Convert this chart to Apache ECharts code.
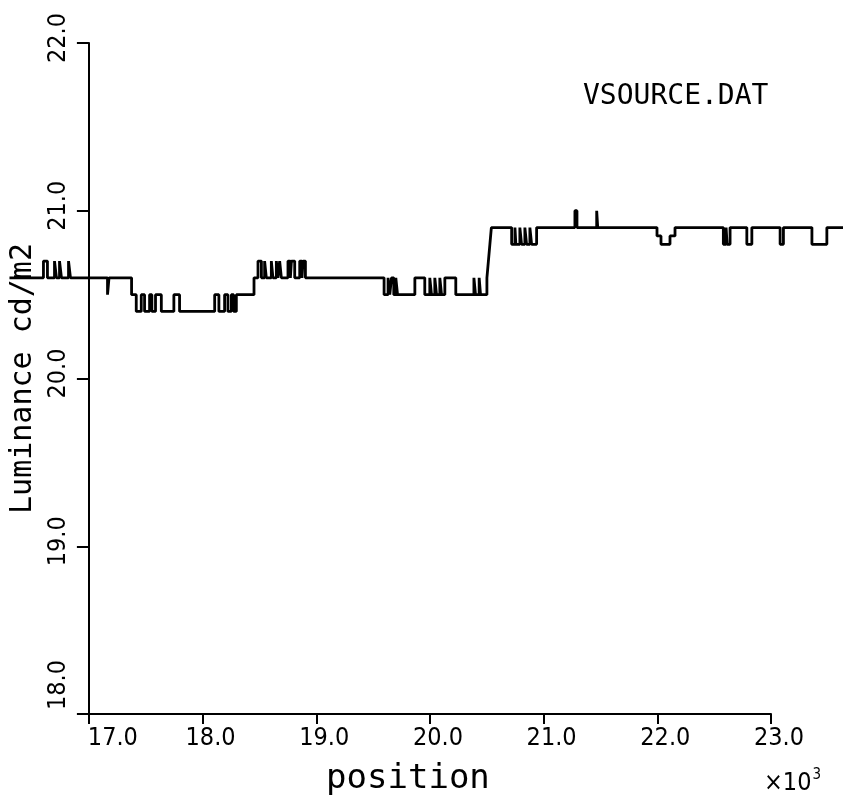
<!DOCTYPE html>
<html>
<head>
<meta charset="utf-8">
<script src="https://cdn.jsdelivr.net/npm/echarts@6/dist/echarts.min.js"></script>
<style>
  html, body { margin: 0; padding: 0; background: #fff; }
  #chart { width: 843px; height: 801px; }
</style>
</head>
<body>
<div id="chart"></div>
<script>
// step points: from each position on, the luminance holds this value
var positions = [
  16320, 16618, 16653, 16715, 16732, 16759, 16776, 16838, 16855, 17180,
  17193, 17391, 17432, 17476, 17505, 17549, 17569, 17601, 17652, 17762,
  17812, 18120, 18157, 18207, 18236, 18266, 18286, 18310, 18465, 18500,
  18530, 18558, 18573, 18617, 18631, 18661, 18675, 18690, 18705, 18763,
  18784, 18793, 18822, 18866, 18886, 18895, 18916, 19606, 19641, 19656,
  19671, 19691, 19709, 19724, 19876, 19963, 20007, 20022, 20051, 20066,
  20095, 20110, 20139, 20235, 20394, 20408, 20440, 20452, 20508, 20521,
  20534, 20547, 20725, 20754, 20762, 20797, 20812, 20841, 20856, 20885,
  20900, 20944, 21280, 21298, 21471, 21480, 22000, 22035, 22114, 22158,
  22582, 22606, 22615, 22641, 22788, 22832, 23080, 23109, 23359, 23490,
  23695
];
var luminance = [
  20.6, 20.7, 20.6, 20.7, 20.6, 20.7, 20.6, 20.7, 20.6, 20.5,
  20.6, 20.5, 20.4, 20.5, 20.4, 20.5, 20.4, 20.5, 20.4, 20.5,
  20.4, 20.5, 20.4, 20.5, 20.4, 20.5, 20.4, 20.5, 20.6, 20.7,
  20.6, 20.7, 20.6, 20.7, 20.6, 20.7, 20.6, 20.7, 20.6, 20.7,
  20.6, 20.7, 20.6, 20.7, 20.6, 20.7, 20.6, 20.5, 20.6, 20.5,
  20.6, 20.5, 20.6, 20.5, 20.6, 20.5, 20.6, 20.5, 20.6, 20.5,
  20.6, 20.5, 20.6, 20.5, 20.6, 20.5, 20.6, 20.5, 20.6, 20.7,
  20.8, 20.9, 20.8, 20.9, 20.8, 20.9, 20.8, 20.9, 20.8, 20.9,
  20.8, 20.9, 21.0, 20.9, 21.0, 20.9, 20.85, 20.8, 20.85, 20.9,
  20.8, 20.9, 20.8, 20.9, 20.8, 20.9, 20.8, 20.9, 20.8, 20.9,
  20.9
];
var xTicks = [17000, 23000, 1000];   // min, max, interval
var yTicks = [18, 22, 1];

// the trace runs past both ends of the drawn axis, so it sits on a second,
// hidden x axis spanning the whole page at the same px per unit
var plotLeft = 87, plotRight = 72, pageW = 843;
var pxPerUnit = (pageW - plotLeft - plotRight) / (xTicks[1] - xTicks[0]);
var fullMin = xTicks[0] - plotLeft / pxPerUnit;
var fullMax = xTicks[1] + plotRight / pxPerUnit;

var plotFont = "'DejaVu Sans Mono', monospace";
var tickFont = "'Liberation Sans Narrow', 'DejaVu Sans Condensed', 'DejaVu Sans', sans-serif";

var chart = echarts.init(document.getElementById('chart'));
var option = {
  backgroundColor: '#fff',
  animation: false,
  title: {
    text: 'VSOURCE.DAT',
    left: 578,
    top: 78,
    textStyle: { color: '#000', fontFamily: plotFont, fontWeight: 'normal', fontSize: 28 }
  },
  grid: [
    { left: plotLeft, right: plotRight, top: 43, bottom: 87 },
    { left: 0, right: 0, top: 43, bottom: 87 }
  ],
  xAxis: [{
    type: 'value',
    gridIndex: 0,
    min: xTicks[0],
    max: xTicks[1],
    interval: xTicks[2],
    name: 'position',
    nameLocation: 'middle',
    nameGap: 48,
    nameTextStyle: { color: '#000', fontFamily: plotFont, fontSize: 34, padding: [0, 44, 0, 0] },
    splitLine: { show: false },
    axisLine: { lineStyle: { color: '#000', width: 2 } },
    axisTick: { length: 10, lineStyle: { color: '#000', width: 2 } },
    axisLabel: {
      margin: 12,
      color: '#000',
      fontFamily: tickFont,
      fontSize: 25,
      formatter: function (v) {
        var s = (v / 1000).toFixed(1);
        return v === xTicks[0] ? '{f|' + s + '}' : '{n|' + s + '}';
      },
      rich: {
        f: { fontFamily: tickFont, fontSize: 25, color: '#000', padding: [0, 0, 0, 48] },
        n: { fontFamily: tickFont, fontSize: 25, color: '#000', padding: [0, 0, 0, 16] }
      }
    }
  }, {
    type: 'value',
    gridIndex: 1,
    min: fullMin,
    max: fullMax,
    show: false
  }],
  yAxis: [{
    type: 'value',
    gridIndex: 0,
    min: yTicks[0],
    max: yTicks[1],
    interval: yTicks[2],
    name: 'Luminance cd/m2',
    nameLocation: 'middle',
    nameGap: 47,
    nameRotate: 90,
    nameTextStyle: { color: '#000', fontFamily: plotFont, fontSize: 30 },
    splitLine: { show: false },
    axisLine: { lineStyle: { color: '#000', width: 2 } },
    axisTick: { length: 12, lineStyle: { color: '#000', width: 2 } },
    axisLabel: {
      rotate: 90,
      margin: 18,
      color: '#000',
      fontFamily: tickFont,
      fontSize: 25,
      formatter: function (v) {
        var s = v.toFixed(1);
        return v === yTicks[0] ? '{f|' + s + '}' : '{n|' + s + '}';
      },
      rich: {
        f: { fontFamily: tickFont, fontSize: 25, color: '#000', padding: [0, 0, 0, 58] },
        n: { fontFamily: tickFont, fontSize: 25, color: '#000', padding: [0, 0, 0, 10] }
      }
    }
  }, {
    type: 'value',
    gridIndex: 1,
    min: yTicks[0],
    max: yTicks[1],
    show: false
  }],
  graphic: [{
    type: 'text',
    left: 764,
    top: 768,
    style: {
      text: '×10{s|3}',
      fill: '#000',
      font: "25px 'DejaVu Sans Condensed', 'DejaVu Sans', sans-serif",
      rich: { s: { fontSize: 15, fontFamily: tickFont, fill: '#000', verticalAlign: 'top', padding: [0, 0, 16, 1] } }
    }
  }],
  series: [{
    type: 'line',
    xAxisIndex: 1,
    yAxisIndex: 1,
    step: 'end',
    showSymbol: false,
    clip: false,
    lineStyle: { color: '#000', width: 2.8 },
    data: positions.map(function (p, i) { return [p, luminance[i]]; })
  }]
};
chart.setOption(option);
</script>
</body>
</html>
